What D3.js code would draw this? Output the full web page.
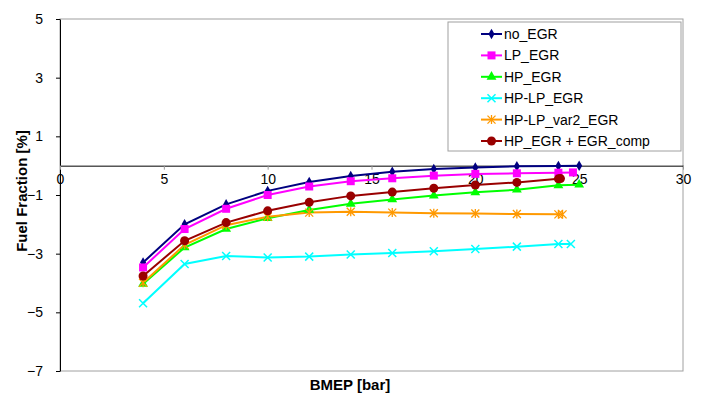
<!DOCTYPE html>
<html><head><meta charset="utf-8">
<script src="https://cdn.jsdelivr.net/npm/d3@7/dist/d3.min.js"></script>
<style>body{margin:0;background:#fff}svg{display:block;font-family:"Liberation Sans",Arial,sans-serif}</style>
</head><body><svg id="c" width="705" height="401"></svg>
<script>
const xTicks = [0,5,10,15,20,25,30];
const yTicks = [5,3,1,-1,-3,-5,-7];
const seriesNames = ["no_EGR","LP_EGR","HP_EGR","HP-LP_EGR","HP-LP_var2_EGR","HP_EGR + EGR_comp"];
const noEGR_x = [4,6,8,10,12,14,16,18,20,22,24,25];
const noEGR_y = [-3.30,-2.00,-1.32,-0.86,-0.56,-0.35,-0.21,-0.11,-0.06,-0.02,-0.01,0.0];
const lpEGR_x = [4,6,8,10,12,14,16,18,20,22,24,24.7];
const lpEGR_y = [-3.47,-2.16,-1.47,-1.00,-0.71,-0.53,-0.43,-0.34,-0.28,-0.26,-0.24,-0.23];
const hpEGR_x = [4,6,8,10,12,14,16,18,20,22,24,25];
const hpEGR_y = [-4.03,-2.79,-2.16,-1.79,-1.51,-1.30,-1.15,-1.02,-0.91,-0.82,-0.67,-0.65];
const hplpEGR_x = [4,6,8,10,12,14,16,18,20,22,24,24.6];
const hplpEGR_y = [-4.69,-3.35,-3.08,-3.13,-3.10,-3.03,-2.98,-2.92,-2.84,-2.76,-2.67,-2.67];
const var2EGR_x = [4,6,8,10,12,14,16,18,20,22,24,24.2];
const var2EGR_y = [-3.99,-2.70,-2.03,-1.74,-1.60,-1.57,-1.60,-1.62,-1.63,-1.65,-1.66,-1.66];
const compEGR_x = [4,6,8,10,12,14,16,18,20,22,24,24.1];
const compEGR_y = [-3.76,-2.56,-1.94,-1.54,-1.25,-1.03,-0.90,-0.77,-0.66,-0.57,-0.45,-0.44];
const colors = ["#000080","#FF00FF","#00FF00","#00FFFF","#FF9900","#990000"];
const symbols = ["diamond","square","triangle","x","star","circle"];

const xsAll=[noEGR_x,lpEGR_x,hpEGR_x,hplpEGR_x,var2EGR_x,compEGR_x];
const ysAll=[noEGR_y,lpEGR_y,hpEGR_y,hplpEGR_y,var2EGR_y,compEGR_y];
const series = seriesNames.map((n,i)=>({name:n,color:colors[i],sym:symbols[i],pts:xsAll[i].map((x,j)=>[x,ysAll[i][j]])}));

const L=60,R=683,T=19,B=371;
const x=d3.scaleLinear().domain([0,30]).range([L,R]);
const y=d3.scaleLinear().domain([-7,5]).range([B,T]);
const svg=d3.select("#c");

// plot frame
svg.append("rect").attr("x",L).attr("y",T).attr("width",R-L).attr("height",B-T).attr("fill","none").attr("stroke","#a0a0a0").attr("stroke-width",1);

// y axis
const ya=svg.append("g").attr("transform",`translate(${L},0)`).call(d3.axisLeft(y).tickValues(yTicks).tickSize(4).tickSizeOuter(0).tickPadding(13));
ya.select(".domain").attr("stroke","#000");
ya.selectAll("line").attr("stroke","#000");
ya.selectAll("text").attr("font-size",14).attr("font-family","Liberation Sans, Arial, sans-serif").attr("fill","#000");

// x axis at y=0
const xa=svg.append("g").attr("transform",`translate(0,${y(0)})`).call(d3.axisBottom(x).tickValues(xTicks).tickSize(4).tickSizeOuter(0).tickPadding(4));
xa.select(".domain").attr("stroke","#000");
xa.selectAll("line").attr("stroke","#999");
xa.selectAll("text").attr("font-size",14).attr("font-family","Liberation Sans, Arial, sans-serif").attr("fill","#000");

// lines
const line=d3.line().x(d=>x(d[0])).y(d=>y(d[1]));
series.forEach(s=>{
  svg.append("path").datum(s.pts).attr("d",line).attr("fill","none").attr("stroke",s.color).attr("stroke-width",2);
});
function drawMarker(g,sym,color,cx,cy){
  if(sym==="diamond") g.append("path").attr("d",d3.symbol(d3.symbolDiamond,32)()).attr("transform",`translate(${cx},${cy})`).attr("fill",color);
  else if(sym==="square") g.append("rect").attr("x",cx-4).attr("y",cy-4).attr("width",8).attr("height",8).attr("fill",color);
  else if(sym==="triangle") g.append("path").attr("d",d3.symbol(d3.symbolTriangle,42)()).attr("transform",`translate(${cx},${cy})`).attr("fill",color);
  else if(sym==="x") g.append("path").attr("d",`M${cx-4},${cy-4}L${cx+4},${cy+4}M${cx-4},${cy+4}L${cx+4},${cy-4}`).attr("stroke",color).attr("stroke-width",1.5);
  else if(sym==="star") g.append("path").attr("d",`M${cx-4},${cy-4}L${cx+4},${cy+4}M${cx-4},${cy+4}L${cx+4},${cy-4}M${cx},${cy-4.5}L${cx},${cy+4.5}`).attr("stroke",color).attr("stroke-width",1.3);
  else if(sym==="circle") g.append("circle").attr("cx",cx).attr("cy",cy).attr("r",4.5).attr("fill",color);
}
series.forEach(s=>{
  const g=svg.append("g");
  s.pts.forEach(p=>drawMarker(g,s.sym,s.color,x(p[0]),y(p[1])));
});

// legend
const lg=svg.append("g");
lg.append("rect").attr("x",448).attr("y",22).attr("width",233).attr("height",129).attr("fill","#fff").attr("stroke","#a0a0a0");
series.forEach((s,i)=>{
  const cy=34+i*21.4;
  lg.append("line").attr("x1",481).attr("x2",502).attr("y1",cy).attr("y2",cy).attr("stroke",s.color).attr("stroke-width",2);
  drawMarker(lg,s.sym,s.color,491.5,cy);
  lg.append("text").attr("x",504).attr("y",cy+5).attr("font-size",14).text(s.name);
});

// titles
svg.append("text").attr("x",350).attr("y",390).attr("text-anchor","middle").attr("font-size",15).attr("font-weight","bold").text("BMEP [bar]");
svg.append("text").attr("transform","translate(27,191) rotate(-90)").attr("text-anchor","middle").attr("font-size",15).attr("font-weight","bold").text("Fuel Fraction [%]");
</script></body></html>
